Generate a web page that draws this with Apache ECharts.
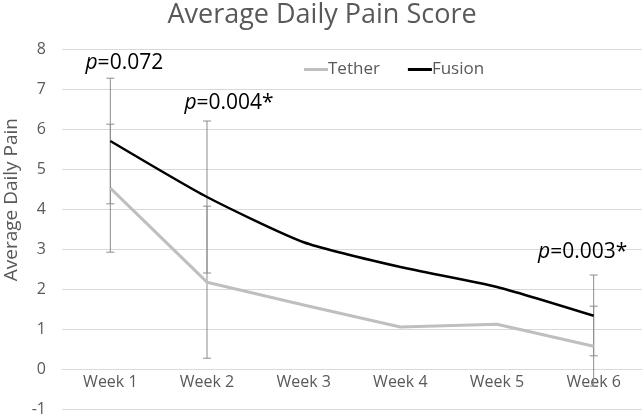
<!DOCTYPE html>
<html><head><meta charset="utf-8">
<script src="https://cdn.jsdelivr.net/npm/echarts@6/dist/echarts.min.js"></script>
<style>html,body{margin:0;padding:0;background:#fff}#c{width:644px;height:417px}</style>
</head><body><div id="c"></div>
<script>
const categories = ['Week 1','Week 2','Week 3','Week 4','Week 5','Week 6'];
const tether = [4.52, 2.17, 1.6, 1.05, 1.12, 0.57];
const fusion = [5.7, 4.3, 3.17, 2.55, 2.05, 1.33];
// error bars: [category, low, high]
const tetherErr = [['Week 1', 2.92, 6.12], ['Week 2', 0.27, 4.07], ['Week 6', -0.43, 1.57]];
const fusionErr = [['Week 1', 4.13, 7.27], ['Week 2', 2.4, 6.2], ['Week 6', 0.33, 2.35]];
const pCats = ['Week 1', 'Week 2', 'Week 6'];
const pPos = [7.65, 6.65, 2.92];
const pValues = ['0.072', '0.004*', '0.003*'];

const FONT = 'Open Sans';
const chart = echarts.init(document.getElementById('c'));

function errItem(params, api) {
  const x = api.value(0);
  const lo = api.coord([x, api.value(1)]);
  const hi = api.coord([x, api.value(2)]);
  const w = 4;
  const st = {stroke: '#8c8c8c', lineWidth: 1};
  return {type: 'group', children: [
    {type: 'line', shape: {x1: lo[0], y1: lo[1], x2: hi[0], y2: hi[1]}, style: st},
    {type: 'line', shape: {x1: lo[0]-w, y1: lo[1], x2: lo[0]+w, y2: lo[1]}, style: st},
    {type: 'line', shape: {x1: hi[0]-w, y1: hi[1], x2: hi[0]+w, y2: hi[1]}, style: st}
  ]};
}
const pOffsets = [[14, 0], [22, 0], [-11, 0]];

chart.setOption({
  animation: false,
  backgroundColor: '#fff',
  textStyle: {fontFamily: FONT},
  title: {text: 'Average Daily Pain Score', left: 'center', top: -3,
    textStyle: {fontFamily: FONT, fontSize: 27, fontWeight: 'normal', color: '#595959'}},
  legend: {data: ['Tether','Fusion'], top: 56, left: 299, itemGap: 28, itemWidth: 24, itemHeight: 3,
    icon: 'rect',
    textStyle: {fontFamily: FONT, fontSize: 17, color: '#595959', padding: [0,0,0,-5]}},
  grid: {left: 62, right: 2, top: 49, bottom: 8, containLabel: false, outerBoundsMode: 'none'},
  xAxis: {type: 'category', data: categories, boundaryGap: true, offset: -40,
    axisLine: {onZero: false, lineStyle: {color: '#d9d9d9'}},
    axisTick: {show: false},
    axisLabel: {fontFamily: FONT, fontSize: 16, color: '#595959', margin: 5}},
  yAxis: {type: 'value', min: -1, max: 8, interval: 1,
    axisLine: {show: false}, axisTick: {show: false},
    splitLine: {lineStyle: {color: '#d9d9d9'}},
    axisLabel: {fontFamily: FONT, fontSize: 16, color: '#595959', margin: 16}},
  graphic: [{type: 'text', left: 2, top: 118, rotation: Math.PI/2,
    style: {text: 'Average Daily Pain', fontFamily: FONT, fontSize: 19, fill: '#595959'}}],
  series: [
    {name: 'Tether', type: 'line', data: tether, symbol: 'none', smooth: false,
      itemStyle: {color: '#bfbfbf'}, lineStyle: {color: '#bfbfbf', width: 3}, z: 3},
    {name: 'Fusion', type: 'line', data: fusion, symbol: 'none', smooth: 0.2,
      itemStyle: {color: '#000'}, lineStyle: {color: '#000', width: 2.5}, z: 4,
      markPoint: {symbol: 'circle', symbolSize: 0,
        label: {show: true, position: 'inside', fontFamily: FONT, fontSize: 21, color: '#000',
          formatter: p => '{i|p}=' + p.data.txt,
          rich: {i: {fontStyle: 'italic', fontFamily: FONT, fontSize: 21, color: '#000'}}},
        data: pCats.map((c, i) => ({coord: [c, pPos[i]], txt: pValues[i],
          label: {offset: pOffsets[i]}}))}},
    {name: 'TetherErr', type: 'custom', renderItem: errItem, data: tetherErr, z: 2, silent: true},
    {name: 'FusionErr', type: 'custom', renderItem: errItem, data: fusionErr, z: 2, silent: true}
  ]
});
</script></body></html>
